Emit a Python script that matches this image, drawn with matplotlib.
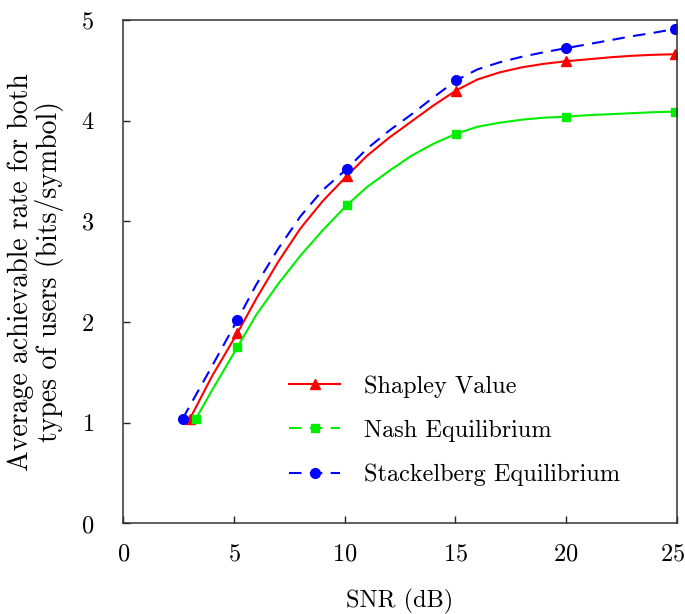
import matplotlib
matplotlib.use("Agg")
import matplotlib.pyplot as plt
import matplotlib.transforms as mtransforms
from matplotlib.lines import Line2D

plt.rcParams["font.family"] = "serif"
plt.rcParams["font.serif"] = ["cmr10", "DejaVu Serif"]
plt.rcParams["mathtext.fontset"] = "cm"
plt.rcParams["axes.formatter.use_mathtext"] = True

# Marker positions (SNR in dB, rate in bits/symbol)
shapley_snr = [3.01, 5.15, 10.09, 15.03, 19.98, 24.9]
shapley_rate = [1.04, 1.89, 3.45, 4.30, 4.59, 4.66]
nash_snr = [3.28, 5.15, 10.09, 15.03, 19.98, 24.9]
nash_rate = [1.04, 1.75, 3.16, 3.87, 4.04, 4.09]
stack_snr = [2.68, 5.15, 10.09, 15.03, 19.98, 24.9]
stack_rate = [1.04, 2.02, 3.52, 4.40, 4.72, 4.91]

# Curve traces
shapley_curve_snr = [3.01, 4, 5.15, 6, 7, 8, 9, 10.09, 11, 12, 13, 14, 15.03,
                     16, 17, 18, 19, 19.98, 21, 22, 23, 24, 24.9]
shapley_curve_rate = [1.04, 1.46, 1.89, 2.23, 2.60, 2.93, 3.20, 3.45, 3.65, 3.83,
                      3.99, 4.15, 4.30, 4.41, 4.48, 4.53, 4.565, 4.59, 4.61, 4.63,
                      4.645, 4.655, 4.66]
nash_curve_snr = [3.28, 4, 5.15, 6, 7, 8, 9, 10.09, 11, 12, 13, 14, 15.03,
                  16, 17, 18, 19, 19.98, 21, 22, 23, 24, 24.9]
nash_curve_rate = [1.04, 1.32, 1.75, 2.07, 2.38, 2.66, 2.91, 3.16, 3.34, 3.50,
                   3.65, 3.77, 3.87, 3.94, 3.98, 4.01, 4.03, 4.04, 4.055, 4.065,
                   4.075, 4.085, 4.09]
stack_curve_snr = [2.68, 4, 5.15, 6, 7, 8, 9, 10.09, 11, 12, 13, 14, 15.03,
                   16, 17, 18, 19, 19.98, 21, 22, 23, 24, 24.9]
stack_curve_rate = [1.04, 1.56, 2.02, 2.37, 2.73, 3.05, 3.31, 3.52, 3.72, 3.90,
                    4.06, 4.23, 4.40, 4.51, 4.58, 4.635, 4.68, 4.72, 4.76, 4.80,
                    4.84, 4.875, 4.91]

x_ticks = [0, 5, 10, 15, 20, 25]
y_ticks = [0, 1, 2, 3, 4, 5]

RED, GREEN, BLUE = "#ff0000", "#00ee00", "#0000ff"

fig = plt.figure(figsize=(6.85, 6.14), dpi=100)
ax = fig.add_axes([0.18, 0.1474, 0.808, 0.82])

ax.plot(shapley_curve_snr, shapley_curve_rate, color=RED, lw=1.5)
ax.plot(shapley_snr, shapley_rate, ls="none", marker="^", ms=7, color=RED)
ax.plot(nash_curve_snr, nash_curve_rate, color=GREEN, lw=1.5)
ax.plot(nash_snr, nash_rate, ls="none", marker="s", ms=6, color=GREEN)
ax.plot(stack_curve_snr, stack_curve_rate, color=BLUE, lw=1.5, dashes=(6, 4))
ax.plot(stack_snr, stack_rate, ls="none", marker="o", ms=7, color=BLUE)

ax.set_xlim(0, 25)
ax.set_ylim(0, 5)
ax.set_xticks(x_ticks)
ax.set_yticks(y_ticks)
ax.tick_params(direction="in", length=5, width=1, colors="#222222",
               labelsize=17.5, labelcolor="black")
ax.tick_params(axis="x", pad=14)
ax.tick_params(axis="y", pad=21)
for s in ax.spines.values():
    s.set_color("#333333")
    s.set_linewidth(1.1)

# nudge the rightmost x tick label so it stays inside the canvas
last = ax.get_xticklabels()[-1]
last.set_transform(last.get_transform() +
                   mtransforms.ScaledTranslation(-4 / 100, 0, fig.dpi_scale_trans))

ax.set_xlabel("SNR (dB)", fontsize=17.5, labelpad=17)
ax.set_ylabel("Average achievable rate for both\ntypes of users (bits/symbol)",
              fontsize=20, labelpad=12, linespacing=1.05)

handles = [
    Line2D([], [], color=RED, lw=1.5, marker="^", ms=7),
    Line2D([], [], color=GREEN, lw=1.5, dashes=(6, 4), marker="s", ms=6),
    Line2D([], [], color=BLUE, lw=1.5, dashes=(6, 4), marker="o", ms=7),
]
labels = ["Shapley Value", "Nash Equilibrium", "Stackelberg Equilibrium"]
ax.legend(handles, labels, loc="upper left", bbox_to_anchor=(0.26, 0.338),
          frameon=False, fontsize=17.5, handlelength=2.1, handletextpad=1.0,
          labelspacing=0.9, numpoints=1)

fig.savefig("out.png", dpi=100)
